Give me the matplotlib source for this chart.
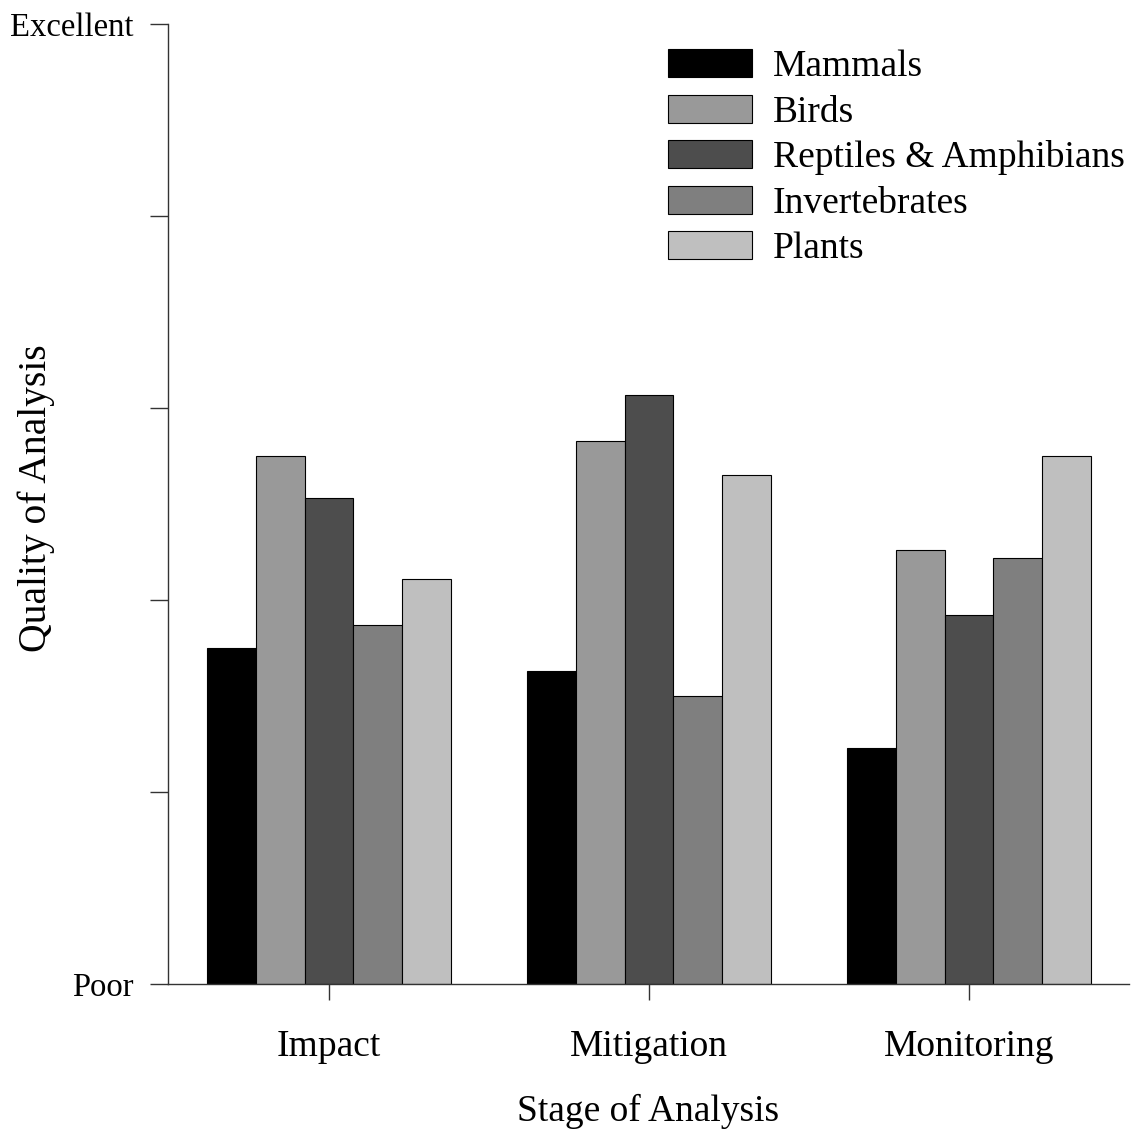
import matplotlib
matplotlib.use("Agg")
from matplotlib import pyplot as plt
import numpy as np

plt.rcParams['font.family'] = ['Liberation Serif', 'DejaVu Serif']

stages = ['Impact', 'Mitigation', 'Monitoring']
groups = ['Mammals', 'Birds', 'Reptiles & Amphibians', 'Invertebrates', 'Plants']
colors = ['#000000', '#999999', '#4d4d4d', '#7f7f7f', '#bfbfbf']

# quality score, 0 = Poor ... 5 = Excellent
mammals = [1.75, 1.63, 1.23]
birds = [2.75, 2.83, 2.26]
reptiles = [2.53, 3.07, 1.92]
invertebrates = [1.87, 1.50, 2.22]
plants = [2.11, 2.65, 2.75]
series = [mammals, birds, reptiles, invertebrates, plants]

fig = plt.figure(figsize=(11.31, 11.31), dpi=100)
ax = fig.add_axes([168 / 1131, 1 - 984 / 1131, (1129 - 168) / 1131, 960 / 1131])

x = np.arange(len(stages))
w = 0.1525
for i, vals in enumerate(series):
    ax.bar(x + (i - 2) * w, vals, w, color=colors[i], edgecolor='black',
           linewidth=0.8, label=groups[i])

ax.set_xlim(-0.503, 2.5)
ax.set_ylim(0, 5)
ax.set_yticks(range(6))
ax.set_yticklabels(['Poor', '', '', '', '', 'Excellent'])
ax.set_xticks(x)
ax.set_xticklabels(stages)

for s in ['top', 'right']:
    ax.spines[s].set_visible(False)
ax.spines['left'].set_color('#333333')
ax.spines['bottom'].set_color('#333333')
ax.spines['left'].set_linewidth(1.0)
ax.spines['bottom'].set_linewidth(1.0)
ax.tick_params(axis='y', length=13, width=1.0, color='#333333', pad=12, labelsize=23.5)
ax.tick_params(axis='x', length=11.5, width=1.0, color='#333333', pad=21, labelsize=27)

ax.set_xlabel('Stage of Analysis', fontsize=27)
ax.xaxis.label.set_va('center')
ax.xaxis.set_label_coords(0.5, (984 - 1111) / 960)
ax.set_ylabel('Quality of Analysis', fontsize=28.5)
ax.yaxis.label.set_va('center')
ax.yaxis.set_label_coords((36 - 168) / 961, 0.506)

fs = 27
fpx = fs / 0.72
ax.legend(loc='upper left', bbox_to_anchor=(668 / 1131, 1 - 49 / 1131),
          bbox_transform=fig.transFigure, frameon=False, fontsize=fs,
          borderpad=0, borderaxespad=0, handlelength=84 / fpx,
          handleheight=29 / fpx, handletextpad=21 / fpx, labelspacing=0.28)

fig.savefig('out.png', dpi=100)
